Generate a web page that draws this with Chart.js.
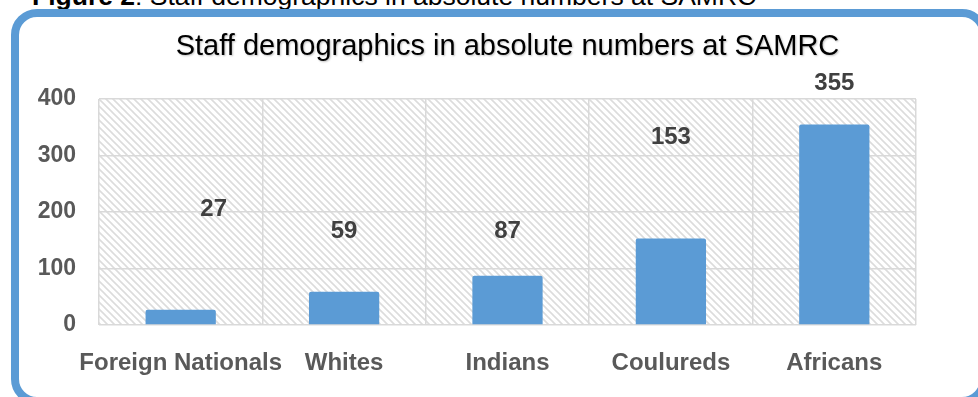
<!DOCTYPE html>
<html lang="en">
<head>
  <meta charset="UTF-8" />
  <title>Staff demographics at SAMRC</title>
  <script src="https://cdn.jsdelivr.net/npm/chart.js"></script>
  <style>
    html, body {
      margin: 0;
      padding: 0;
      background: #fff;
      overflow: hidden;
    }
    body {
      width: 978px;
      height: 397px;
      position: relative;
      font-family: Arial, "Liberation Sans", sans-serif;
    }
    .caption {
      position: absolute;
      left: 32px;
      top: -17px;
      font-size: 26.5px;
      line-height: 26px;
      white-space: nowrap;
      color: #000;
    }
    .frame {
      position: absolute;
      left: 11px;
      top: 9px;
      width: 961px;
      height: 380px;
      border: 8px solid #5B9BD5;
      border-radius: 26px;
    }
    .chart-box {
      position: absolute;
      left: 0;
      top: 0;
      width: 978px;
      height: 397px;
    }
  </style>
</head>
<body>

<div class="caption"><b>Figure 2</b>: Staff demographics in absolute numbers at SAMRC</div>
<div class="frame"></div>
<div class="chart-box">
  <canvas id="staffChart"></canvas>
</div>

<script>
  // chart data
  const chartTitle = 'Staff demographics in absolute numbers at SAMRC';
  const categories = ['Foreign Nationals', 'Whites', 'Indians', 'Coulureds', 'Africans'];
  const staffCounts = [27, 59, 87, 153, 355];
  const yTicks = [0, 100, 200, 300, 400];

  const FONT = 'Arial, "Liberation Sans", sans-serif';

  // light diagonal hatch like the excel plot area fill
  function makeHatch() {
    const size = 7;
    const c = document.createElement('canvas');
    c.width = size;
    c.height = size;
    const g = c.getContext('2d');
    g.strokeStyle = '#dcdcdc';
    g.lineWidth = 1.6;
    g.beginPath();
    g.moveTo(-1, -1); g.lineTo(size + 1, size + 1);
    g.moveTo(-1, size - 1); g.lineTo(1, size + 1);
    g.moveTo(size - 1, -1); g.lineTo(size + 1, 1);
    g.stroke();
    return g.createPattern(c, 'repeat');
  }

  const hatchPlugin = {
    id: 'hatch',
    beforeDraw(chart) {
      const { ctx, chartArea: a } = chart;
      ctx.save();
      ctx.fillStyle = makeHatch();
      ctx.fillRect(a.left, a.top, a.right - a.left, a.bottom - a.top);
      ctx.restore();
    }
  };

  // title centred over the plot area, not the whole canvas
  const titlePlugin = {
    id: 'plotTitle',
    afterDraw(chart, args, opts) {
      const { ctx, chartArea: a } = chart;
      ctx.save();
      ctx.font = '29px ' + FONT;
      ctx.fillStyle = '#000';
      ctx.textAlign = 'center';
      ctx.textBaseline = 'alphabetic';
      ctx.shadowColor = 'rgba(0,0,0,0.25)';
      ctx.shadowBlur = 2;
      ctx.shadowOffsetX = 1;
      ctx.shadowOffsetY = 1;
      ctx.fillText(opts.text, (a.left + a.right) / 2, opts.baseline);
      ctx.restore();
    }
  };

  // value labels, placed where they sit in the original figure
  const valueLabelPlugin = {
    id: 'valueLabels',
    afterDatasetsDraw(chart, args, opts) {
      const { ctx } = chart;
      const meta = chart.getDatasetMeta(0);
      const yScale = chart.scales.y;
      ctx.save();
      ctx.font = 'bold 24px ' + FONT;
      ctx.fillStyle = '#404040';
      ctx.textAlign = 'center';
      ctx.textBaseline = 'middle';
      meta.data.forEach((bar, i) => {
        const x = bar.x + opts.dx[i];
        const y = yScale.getPixelForValue(opts.at[i]);
        ctx.fillText(String(staffCounts[i]), x, y);
      });
      ctx.restore();
    }
  };

  const ctx = document.getElementById('staffChart').getContext('2d');

  new Chart(ctx, {
    type: 'bar',
    data: {
      labels: categories,
      datasets: [{
        data: staffCounts,
        backgroundColor: '#5B9BD5',
        borderRadius: { topLeft: 2, topRight: 2 },
        borderSkipped: 'bottom',
        barPercentage: 0.43,
        categoryPercentage: 1.0
      }]
    },
    options: {
      responsive: true,
      maintainAspectRatio: false,
      animation: false,
      layout: {
        padding: { top: 99, right: 62, left: 0, bottom: 0 }
      },
      plugins: {
        legend: { display: false },
        tooltip: { enabled: false },
        title: { display: false },
        plotTitle: { text: chartTitle, baseline: 55 },
        valueLabels: {
          at: [205, 166, 166, 332, 427],
          dx: [33, 0, 0, 0, 0]
        }
      },
      scales: {
        x: {
          grid: {
            color: '#d9d9d9',
            lineWidth: 1.5,
            drawTicks: false,
            offset: true
          },
          border: { display: false },
          ticks: {
            padding: 24,
            color: '#595959',
            font: { family: FONT, size: 24, weight: 'bold' },
            maxRotation: 0,
            autoSkip: false
          },
          afterFit(scale) { scale.height = 72; }
        },
        y: {
          min: yTicks[0],
          max: yTicks[yTicks.length - 1],
          afterBuildTicks(scale) {
            scale.ticks = yTicks.map(v => ({ value: v }));
          },
          grid: {
            color: '#d9d9d9',
            lineWidth: 1.5,
            drawTicks: false
          },
          border: { display: false },
          ticks: {
            padding: 23,
            color: '#595959',
            font: { family: FONT, size: 23, weight: 'bold' }
          },
          afterFit(scale) { scale.width = 99; }
        }
      }
    },
    plugins: [hatchPlugin, titlePlugin, valueLabelPlugin]
  });
</script>

</body>
</html>
